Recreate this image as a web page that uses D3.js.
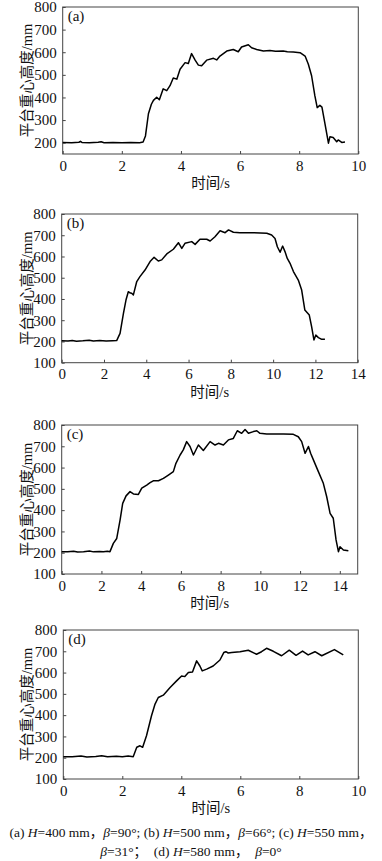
<!DOCTYPE html>
<html>
<head>
<meta charset="utf-8">
<title>平台重心高度</title>
<script src="https://cdn.jsdelivr.net/npm/d3@7"></script>
<style>
*{ margin:0; padding:0; }
body{ background:#fff; }
svg{ display:block; }
svg text{ font-family: "Liberation Serif", "Noto Sans CJK SC", serif; }
</style>
</head>
<body>
<script>
// (a) H=400 mm, beta=90
var timeA   = [0,0.3,0.55,0.6,0.65,0.9,1.2,1.3,1.4,1.7,2.0,2.3,2.6,2.72,2.8,2.9,3.0,3.07,3.18,3.27,3.4,3.52,3.63,3.74,3.86,3.97,4.14,4.25,4.36,4.48,4.59,4.7,4.87,5.1,5.21,5.32,5.55,5.77,5.94,6.05,6.28,6.39,6.56,6.79,7.01,7.2,7.46,7.6,7.8,8.03,8.2,8.31,8.42,8.53,8.61,8.7,8.77,8.87,8.99,9.04,9.15,9.27,9.32,9.44,9.55];
var heightA = [201,200,202,206,201,200,202,204,200,201,200,201,200,203,230,328,370,387,401,390,438,430,452,486,481,525,554,550,594,565,543,540,565,573,566,583,605,612,602,623,633,620,612,605,608,604,605,602,601,598,583,547,496,408,355,365,357,285,198,226,223,204,212,201,203];

// (b) H=500 mm, beta=66
var timeB   = [0,0.3,0.5,0.7,1.0,1.3,1.5,1.8,2.1,2.4,2.6,2.76,2.92,3.04,3.15,3.25,3.31,3.39,3.55,3.7,3.94,4.18,4.37,4.57,4.73,4.97,5.28,5.52,5.68,5.83,6.15,6.31,6.54,6.86,7.02,7.25,7.49,7.73,7.89,8.12,8.43,9.07,9.7,9.93,10.09,10.2,10.33,10.45,10.56,10.67,10.8,10.96,11.19,11.35,11.5,11.71,11.82,11.93,12.02,12.14,12.3,12.45];
var heightB = [203,202,205,201,203,206,202,204,202,203,204,238,332,395,434,428,427,419,482,505,536,576,596,579,584,612,634,665,638,662,670,657,681,681,673,693,721,712,725,714,712,712,709,701,685,646,620,649,623,591,568,529,489,442,348,324,270,207,230,218,210,210];

// (c) H=550 mm, beta=31
var timeC   = [0,0.3,0.6,0.8,1.1,1.4,1.6,1.9,2.1,2.3,2.43,2.6,2.77,2.94,3.07,3.24,3.44,3.61,3.86,4.03,4.28,4.45,4.61,4.87,5.12,5.37,5.62,5.75,5.96,6.12,6.29,6.46,6.63,6.88,7.13,7.47,7.72,7.89,8.14,8.39,8.64,8.84,9.06,9.23,9.4,9.65,9.82,9.98,10.32,11.16,11.66,11.91,12.08,12.25,12.42,12.53,12.67,12.92,13.17,13.34,13.51,13.67,13.81,13.93,14.01,14.18,14.43];
var heightC = [205,204,207,203,205,208,204,206,204,207,205,244,267,354,432,467,487,476,474,503,518,529,538,538,549,565,581,620,659,683,722,699,659,706,680,722,706,714,706,730,737,773,761,779,761,769,773,761,758,758,756,745,722,667,699,667,636,581,526,463,385,362,260,205,228,213,209];

// (d) H=580 mm, beta=0
var timeD   = [0,0.3,0.6,0.8,1.1,1.3,1.5,1.8,2.0,2.2,2.37,2.49,2.6,2.69,2.82,2.99,3.11,3.22,3.39,3.62,3.84,4.01,4.12,4.24,4.38,4.52,4.63,4.71,4.86,5.08,5.31,5.44,5.51,5.59,5.71,5.99,6.27,6.55,6.72,6.89,7.12,7.4,7.66,7.89,8.11,8.3,8.53,8.76,9.19,9.49];
var heightD = [205,204,208,203,206,209,204,207,205,208,205,249,256,249,303,397,452,483,494,530,561,584,581,600,603,655,631,608,616,631,659,694,698,692,694,698,705,686,698,714,700,679,705,681,701,683,698,679,708,683];

var panels = [
  {tag:"(a)", t:timeA, h:heightA, xMax:10,   xTicks:[0,2,4,6,8,10],        yMin:150, yTicks:[200,300,400,500,600,700,800], left:62.7, right:358.3, top:7,   bottom:154},
  {tag:"(b)", t:timeB, h:heightB, xMax:14,   xTicks:[0,2,4,6,8,10,12,14],  yMin:100, yTicks:[100,200,300,400,500,600,700,800], left:61.7, right:357.7, top:214, bottom:362.7},
  {tag:"(c)", t:timeC, h:heightC, xMax:14.9, xTicks:[0,2,4,6,8,10,12,14],  yMin:100, yTicks:[100,200,300,400,500,600,700,800], left:61.7, right:357.7, top:425, bottom:574},
  {tag:"(d)", t:timeD, h:heightD, xMax:10,   xTicks:[0,2,4,6,8,10],        yMin:100, yTicks:[100,200,300,400,500,600,700,800], left:63.3, right:358.3, top:630, bottom:779}
];

var width = 382, height = 861;
var serif = "'Liberation Serif', 'Noto Sans CJK SC', serif";

var svg = d3.select("body").append("svg")
  .attr("width", width).attr("height", height);

panels.forEach(function(p){
  var x = d3.scaleLinear().domain([0, p.xMax]).range([p.left, p.right]);
  var y = d3.scaleLinear().domain([p.yMin, 800]).range([p.bottom, p.top]);
  var g = svg.append("g");

  // bottom axis, ticks inward
  var xa = g.append("g").attr("transform", "translate(0," + p.bottom + ")")
    .call(d3.axisBottom(x).tickValues(p.xTicks).tickSizeInner(-3).tickSizeOuter(0).tickPadding(6));
  // left axis, ticks inward
  var ya = g.append("g").attr("transform", "translate(" + p.left + ",0)")
    .call(d3.axisLeft(y).tickValues(p.yTicks).tickSizeInner(-3).tickSizeOuter(0).tickPadding(6));
  [xa, ya].forEach(function(a){
    a.attr("font-family", null).attr("font-size", null);
    a.select(".domain").remove();
    a.selectAll("line").attr("stroke", "#444");
    a.selectAll("text").style("font-family", serif).style("font-size", "15px").attr("fill", "#111");
  });

  // frame
  g.append("rect")
    .attr("x", p.left).attr("y", p.top)
    .attr("width", p.right - p.left).attr("height", p.bottom - p.top)
    .attr("fill", "none").attr("stroke", "#444").attr("stroke-width", 1);

  var line = d3.line().x(function(d, i){ return x(p.t[i]); }).y(function(d){ return y(d); });
  g.append("path").datum(p.h)
    .attr("d", line)
    .attr("fill", "none").attr("stroke", "#000")
    .attr("stroke-width", 1.5).attr("stroke-linejoin", "round");

  g.append("text").attr("x", p.left + 5).attr("y", p.top + 14)
    .style("font-family", serif).style("font-size", "15px").attr("fill", "#111").text(p.tag);

  g.append("text")
    .attr("transform", "translate(32," + ((p.top + p.bottom) / 2) + ") rotate(-90)")
    .attr("text-anchor", "middle")
    .style("font-family", serif).style("font-size", "14.5px").attr("fill", "#111")
    .text("平台重心高度/mm");

  g.append("text")
    .attr("x", (p.left + p.right) / 2).attr("y", p.bottom + 34)
    .attr("text-anchor", "middle")
    .style("font-family", serif).style("font-size", "14.5px").attr("fill", "#111")
    .text("时间/s");
});

// caption
var cap1 = svg.append("text").attr("x", width / 2).attr("y", 837)
  .attr("text-anchor", "middle").style("font-family", serif).style("font-size", "13.5px").attr("fill", "#111");
var cap2 = svg.append("text").attr("x", width / 2).attr("y", 856)
  .attr("text-anchor", "middle").style("font-family", serif).style("font-size", "13.5px").attr("fill", "#111")
  .attr("xml:space", "preserve");

function addParts(el, parts){
  parts.forEach(function(s){
    var ts = el.append("tspan").text(s[0]);
    if (s[1]) ts.style("font-style", "italic");
  });
}
addParts(cap1, [["(a) "],["H",1],["=400 mm，"],["β",1],["=90°; (b) "],["H",1],["=500 mm，"],["β",1],["=66°; (c) "],["H",1],["=550 mm，"]]);
addParts(cap2, [["β",1],["=31°；  (d) "],["H",1],["=580 mm，  "],["β",1],["=0°"]]);
</script>
</body>
</html>
